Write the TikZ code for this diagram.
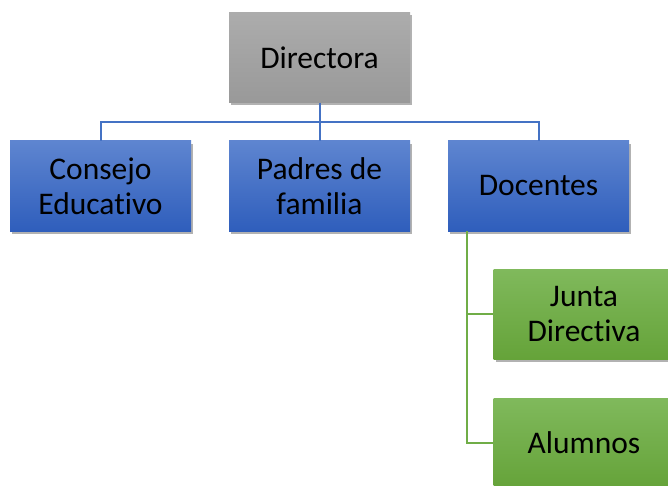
\documentclass[tikz,border=0pt]{standalone}
\usepackage{fontspec}
\setmainfont{Carlito}[Ligatures={NoCommon}]
\usetikzlibrary{shadows}
\definecolor{blueline}{HTML}{4472C4}
\definecolor{greenline}{HTML}{70AD47}
\newcommand{\nolig}{\kern0pt }
\tikzset{
  box/.style={minimum width=181pt, minimum height=90pt, inner sep=0pt, align=center,
    font=\fontsize{31.5}{35}\selectfont, text=black, shading=axis, shading angle=0,
    drop shadow={shadow xshift=2pt, shadow yshift=-3pt, opacity=0.3, fill=black}},
  greybox/.style={box, top color=gray!65, bottom color=gray!80},
  bluebox/.style={box, top color={rgb,255:red,94;green,133;blue,208}, bottom color={rgb,255:red,47;green,94;blue,188}},
  greenbox/.style={box, top color={rgb,255:red,128;green,185;blue,92}, bottom color={rgb,255:red,101;green,163;blue,57}},
  bconn/.style={draw=blueline, line width=2pt},
  gconn/.style={draw=greenline, line width=2pt}
}
\begin{document}
\begin{tikzpicture}[x=1pt,y=-1pt]
\clip (0,0) rectangle (668,486);
\fill[white] (0,0) rectangle (668,486);
\coordinate (bar) at (319.5,122);
\node[greybox] (dir) at (319.5,57.5) {Directora};
\node[bluebox] (con) at (100.5,186) {Consejo\\Educat\nolig ivo};
\node[bluebox] (pad) at (319.5,186) {Padres de\\familia};
\node[bluebox] (doc) at (538.5,186) {Docentes};
\node[greenbox] (jun) at (584,314) {Junta\\Direct\nolig iva};
\node[greenbox] (alu) at (584,443) {Alumnos};
\path[bconn] (dir.south) -- (bar);
\path[bconn] (con.north) |- (bar) -| (doc.north);
\path[bconn] (bar) -- (pad.north);
\coordinate (gx) at (467,0);
\path[gconn] (doc.south -| gx) |- (jun.west);
\path[gconn] (doc.south -| gx) |- (alu.west);
\end{tikzpicture}
\end{document}
